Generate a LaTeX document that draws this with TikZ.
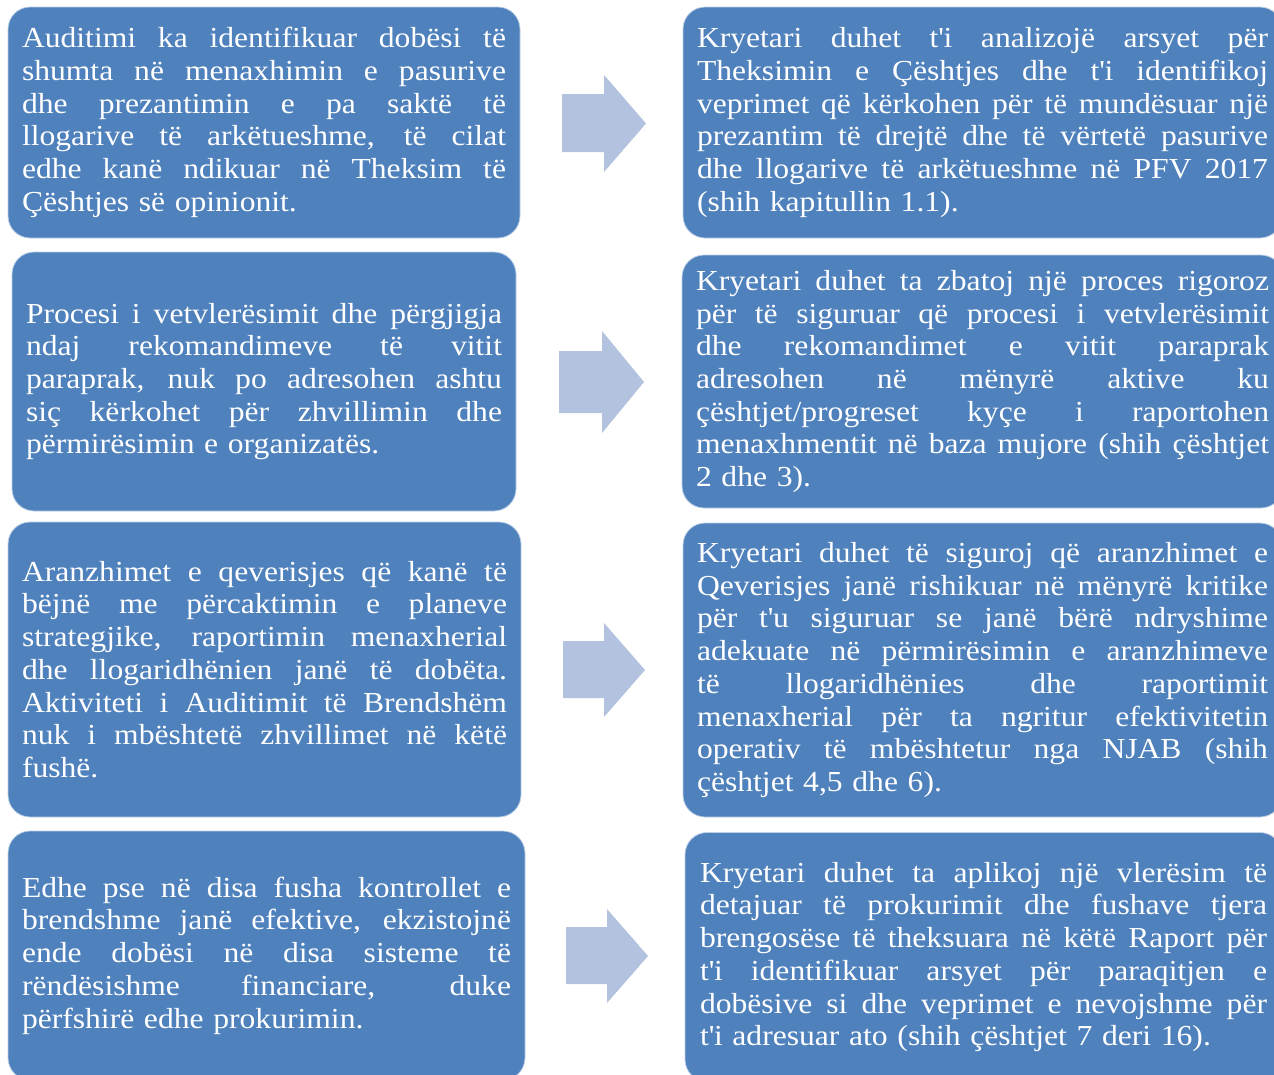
\documentclass[tikz,border=0pt]{standalone}
\usepackage{fontspec}
\setmainfont[FakeStretch=1.09]{Liberation Serif}
\definecolor{boxblue}{RGB}{79,129,189}
\definecolor{boxedge}{RGB}{190,208,232}
\definecolor{arrowblue}{RGB}{179,194,222}
\newcommand\JL[1]{\makebox[\linewidth][s]{\spaceskip=0pt\xspaceskip=0pt\relax #1}\\}
\newcommand\ap{\textquotesingle}
\begin{document}
\begin{tikzpicture}[x=1pt,y=-1pt,
  txtbox/.style={draw=boxedge, line width=0.8pt, fill=boxblue, rounded corners=22pt,
    text=white, align=left, inner xsep=14pt, inner ysep=0pt,
    font=\fontsize{29}{32.7}\selectfont},
  bigarrow/.style={fill=arrowblue, draw=none}]
\useasboundingbox (0,0) rectangle (1274,1074);
\fill[white] (0,0) rectangle (1274,1074);
% row 1
\node[txtbox, minimum width=512pt, minimum height=231pt, text width=484pt] (l1) at (264,122.5) {%
\JL{Auditimi ka identifikuar dobësi të}
\JL{shumta në menaxhimin e pasurive}
\JL{dhe prezantimin e pa saktë të}
\JL{llogarive të arkëtueshme, të cilat}
\JL{edhe kanë ndikuar në Theksim të}
Çështjes së opinionit.};
\node[txtbox, minimum width=599pt, minimum height=231pt, text width=571pt] (r1) at (982.5,122.5) {%
\JL{Kryetari duhet t\ap i analizojë arsyet për}
\JL{Theksimin e Çështjes dhe t\ap i identifikoj}
\JL{veprimet që kërkohen për të mundësuar një}
\JL{prezantim të drejtë dhe të vërtetë pasurive}
\JL{dhe llogarive të arkëtueshme në PFV 2017}
(shih kapitullin 1.1).};
% row 2
\node[txtbox, minimum width=504pt, minimum height=259pt, text width=476pt] (l2) at (264,381.5) {%
\JL{Procesi i vetvlerësimit dhe përgjigja}
\JL{ndaj rekomandimeve të vitit}
\JL{paraprak, nuk po adresohen ashtu}
\JL{siç kërkohet për zhvillimin dhe}
përmirësimin e organizatës.};
\node[txtbox, minimum width=599pt, minimum height=253pt, text width=573pt] (r2) at (982.5,381.5) {%
\JL{Kryetari duhet ta zbatoj një proces rigoroz}
\JL{për të siguruar që procesi i vetvlerësimit}
\JL{dhe rekomandimet e vitit paraprak}
\JL{adresohen në mënyrë aktive ku}
\JL{çështjet/progreset kyçe i raportohen}
\JL{menaxhmentit në baza mujore (shih çështjet}
2 dhe 3).};
% row 3
\node[txtbox, minimum width=513pt, minimum height=295pt, text width=485pt] (l3) at (264.5,669.5) {%
\JL{Aranzhimet e qeverisjes që kanë të}
\JL{bëjnë me përcaktimin e planeve}
\JL{strategjike, raportimin menaxherial}
\JL{dhe llogaridhënien janë të dobëta.}
\JL{Aktiviteti i Auditimit të Brendshëm}
\JL{nuk i mbështetë zhvillimet në këtë}
fushë.};
\node[txtbox, minimum width=599pt, minimum height=294pt, text width=571pt] (r3) at (982.5,670) {%
\JL{Kryetari duhet të siguroj që aranzhimet e}
\JL{Qeverisjes janë rishikuar në mënyrë kritike}
\JL{për t\ap u siguruar se janë bërë ndryshime}
\JL{adekuate në përmirësimin e aranzhimeve}
\JL{të llogaridhënies dhe raportimit}
\JL{menaxherial për ta ngritur efektivitetin}
\JL{operativ të mbështetur nga NJAB (shih}
çështjet 4,5 dhe 6).};
% row 4
\node[txtbox, minimum width=517pt, minimum height=249pt, text width=489pt] (l4) at (266.5,955.5) {%
\JL{Edhe pse në disa fusha kontrollet e}
\JL{brendshme janë efektive, ekzistojnë}
\JL{ende dobësi në disa sisteme të}
\JL{rëndësishme financiare, duke}
përfshirë edhe prokurimin.};
\node[txtbox, minimum width=597pt, minimum height=249pt, text width=567pt] (r4) at (983.5,957) {%
\JL{Kryetari duhet ta aplikoj një vlerësim të}
\JL{detajuar të prokurimit dhe fushave tjera}
\JL{brengosëse të theksuara në këtë Raport për}
\JL{t\ap i identifikuar arsyet për paraqitjen e}
\JL{dobësive si dhe veprimet e nevojshme për}
t\ap i adresuar ato (shih çështjet 7 deri 16).};
% block arrows
\fill[bigarrow] (562,94) -- (604,94) -- (604,75) -- (646,123.5) -- (604,172) -- (604,152) -- (562,152) -- cycle;
\fill[bigarrow] (559,351) -- (602,351) -- (602,331) -- (644,382) -- (602,433) -- (602,413) -- (559,413) -- cycle;
\fill[bigarrow] (563,641) -- (604,641) -- (604,623) -- (645,670) -- (604,717) -- (604,698) -- (563,698) -- cycle;
\fill[bigarrow] (566,927) -- (607,927) -- (607,909) -- (648,956) -- (607,1003) -- (607,984) -- (566,984) -- cycle;
\end{tikzpicture}
\end{document}
